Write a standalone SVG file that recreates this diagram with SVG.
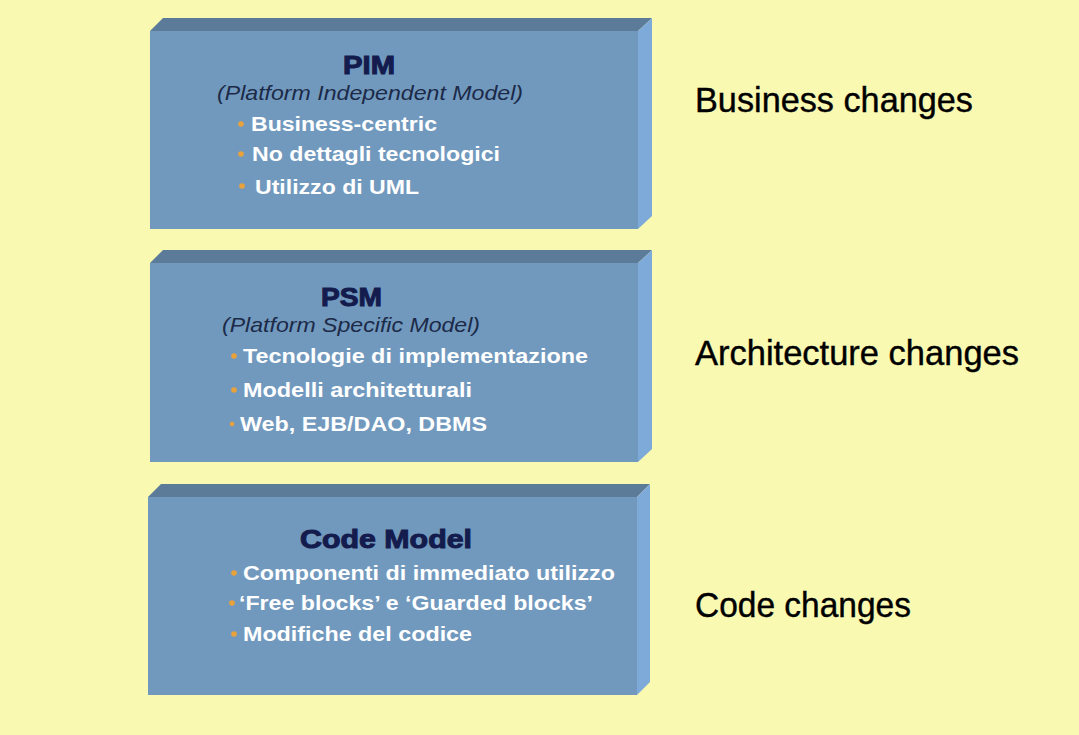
<svg xmlns="http://www.w3.org/2000/svg" width="1079" height="735" viewBox="0 0 1079 735">
<style>
.front{fill:#7199BE}
.top{fill:#5B7B98}
.side{fill:#7EAAD9}
.title{font-family:"Liberation Sans",Arial,sans-serif;font-weight:bold;fill:#141C4E;stroke:#141C4E;stroke-width:1}
.sub{font-family:"Liberation Sans",Arial,sans-serif;font-style:italic;fill:#1C2A48;font-size:21px}
.item{font-family:"Liberation Sans",Arial,sans-serif;font-weight:bold;fill:#FFFFFF;font-size:20px}
.dot{fill:#E9A23A}
.label{font-family:"Liberation Sans",Arial,sans-serif;fill:#000000;stroke:#000000;stroke-width:0.4;font-size:35px}
</style>
<rect x="0" y="0" width="1079" height="735" fill="#F9F9B2"/>

<g id="pim">
<polygon class="top" points="150,31 163,18 652,18 638,31"/>
<polygon class="side" points="638,31 652,18 652,216 638,229"/>
<rect class="front" x="150" y="31" width="488" height="198"/>
<text class="title" x="343" y="74" font-size="25" textLength="52" lengthAdjust="spacingAndGlyphs">PIM</text>
<text class="sub" x="217" y="100" textLength="306" lengthAdjust="spacingAndGlyphs">(Platform Independent Model)</text>
<circle class="dot" cx="241" cy="124" r="2.8"/>
<text class="item" x="251" y="131" textLength="186" lengthAdjust="spacingAndGlyphs">Business-centric</text>
<circle class="dot" cx="241" cy="154" r="2.8"/>
<text class="item" x="252" y="161" textLength="248" lengthAdjust="spacingAndGlyphs">No dettagli tecnologici</text>
<circle class="dot" cx="242" cy="186" r="2.8"/>
<text class="item" x="255" y="194" textLength="164" lengthAdjust="spacingAndGlyphs">Utilizzo di UML</text>
</g>

<g id="psm">
<polygon class="top" points="150,263 163,250 652,250 638,263"/>
<polygon class="side" points="638,263 652,250 652,449 638,462"/>
<rect class="front" x="150" y="263" width="488" height="199"/>
<text class="title" x="321" y="306" font-size="25" textLength="61" lengthAdjust="spacingAndGlyphs">PSM</text>
<text class="sub" x="222" y="332" textLength="258" lengthAdjust="spacingAndGlyphs">(Platform Specific Model)</text>
<circle class="dot" cx="234" cy="356" r="2.8"/>
<text class="item" x="243" y="363" textLength="345" lengthAdjust="spacingAndGlyphs">Tecnologie di implementazione</text>
<circle class="dot" cx="234" cy="390" r="2.8"/>
<text class="item" x="243" y="397" textLength="229" lengthAdjust="spacingAndGlyphs">Modelli architetturali</text>
<circle class="dot" cx="232" cy="424" r="2.3"/>
<text class="item" x="240" y="431" textLength="247" lengthAdjust="spacingAndGlyphs">Web, EJB/DAO, DBMS</text>
</g>

<g id="code">
<polygon class="top" points="148,497 161,484 650,484 637,497"/>
<polygon class="side" points="637,497 650,484 650,682 637,695"/>
<rect class="front" x="148" y="497" width="489" height="198"/>
<text class="title" x="300" y="548" font-size="25" textLength="172" lengthAdjust="spacingAndGlyphs">Code Model</text>
<circle class="dot" cx="234" cy="573" r="2.8"/>
<text class="item" x="243" y="580" textLength="372" lengthAdjust="spacingAndGlyphs">Componenti di immediato utilizzo</text>
<circle class="dot" cx="232" cy="603" r="2.8"/>
<text class="item" x="239" y="610" textLength="354" lengthAdjust="spacingAndGlyphs">‘Free blocks’ e ‘Guarded blocks’</text>
<circle class="dot" cx="234" cy="634" r="2.8"/>
<text class="item" x="243" y="641" textLength="229" lengthAdjust="spacingAndGlyphs">Modifiche del codice</text>
</g>

<g id="labels">
<text class="label" x="695" y="112" textLength="278" lengthAdjust="spacingAndGlyphs">Business changes</text>
<text class="label" x="695" y="365" textLength="324" lengthAdjust="spacingAndGlyphs">Architecture changes</text>
<text class="label" x="695" y="617" textLength="216" lengthAdjust="spacingAndGlyphs">Code changes</text>
</g>

<g id="connectors"></g>
</svg>
